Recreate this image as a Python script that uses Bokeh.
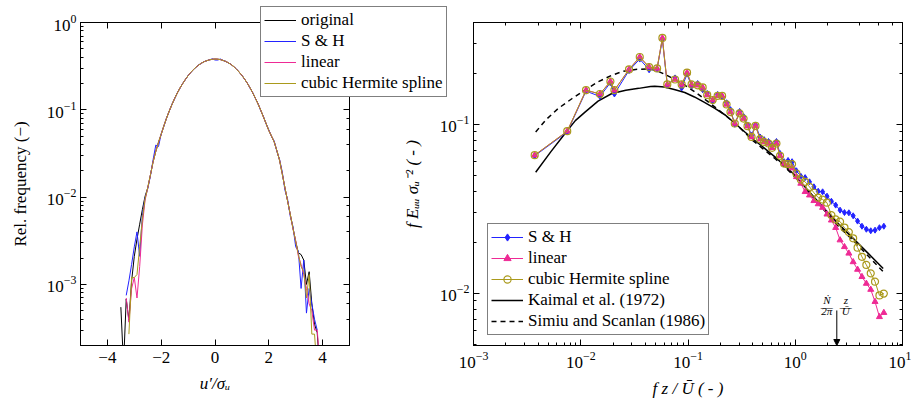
from bokeh.plotting import figure
from bokeh.models import (Range1d, LogAxis, LinearAxis, FixedTicker, LogTicker,
                          LogTickFormatter, Legend, LegendItem, Label, Arrow, NormalHead,
                          CustomJSTickFormatter, GridBox)
from bokeh.embed import file_html
from bokeh.resources import INLINE

FONT = "Liberation Serif"
NAN = float("nan")

# ---------------- left panel: histogram of u'/sigma_u ----------------
u_bin_start, u_bin_step, u_bin_count = -3.5, 0.1, 75
u_bins = [round(u_bin_start + u_bin_step * i, 1) for i in range(u_bin_count)]

# shared central part (-2.5 .. 2.8)
core_vals = [0.0128, 0.0180, 0.0255, 0.0335, 0.0425, 0.0525, 0.0655, 0.0805, 0.0970, 0.1150,
             0.1350, 0.1560, 0.1780, 0.2000, 0.2230, 0.2460, 0.2680, 0.2890, 0.3090, 0.3270,
             0.3430, 0.3560, 0.3660, 0.3740, 0.3790, 0.3810, 0.3800, 0.3760, 0.3680, 0.3580,
             0.3450, 0.3300, 0.3120, 0.2920, 0.2700, 0.2480, 0.2250, 0.2020, 0.1790, 0.1570,
             0.1360, 0.1170, 0.0990, 0.0830, 0.0695, 0.0580, 0.0500, 0.0430, 0.0340, 0.0265,
             0.0185, 0.0128, 0.0090, 0.0063]
sh_core_vals = [0.0125, 0.0175, 0.0270, 0.0395, 0.0380, 0.0530, 0.0650, 0.0810, 0.0965, 0.1160,
                0.1340, 0.1570, 0.1770, 0.2010, 0.2220, 0.2470, 0.2670, 0.2900, 0.3080, 0.3280,
                0.3420, 0.3570, 0.3650, 0.3750, 0.3830, 0.3720, 0.3710, 0.3820, 0.3670, 0.3590,
                0.3440, 0.3310, 0.3110, 0.2930, 0.2690, 0.2490, 0.2240, 0.2030, 0.1780, 0.1580,
                0.1350, 0.1180, 0.0980, 0.0840, 0.0690, 0.0590, 0.0495, 0.0440, 0.0335, 0.0270,
                0.0195, 0.0120, 0.0094, 0.0060]

orig_left = [0.00055, 0.00012, 0.00068, 0.00039, 0.0011, 0.0021, 0.0033, 0.0049, 0.0072, 0.0102]
sh_left = [NAN, NAN, 0.00075, 0.0011, 0.0017, 0.0027, 0.0040, 0.0021, 0.0062, 0.0098]
lin_left = [NAN, NAN, 0.0007, 0.00037, 0.0009, 0.0012, 0.0007, 0.0016, 0.0048, 0.0092]
chs_left = [NAN, NAN, NAN, 0.00027, 0.0012, 0.0012, 0.0013, 0.0027, 0.0056, 0.0095]

orig_right = [0.0044, 0.0031, 0.0023, 0.0022, 0.0019, 0.0010, 0.0014, 0.0006, 0.00035, 0.00028, 0.0001]
sh_right = [0.0046, 0.0027, 0.0024, 0.0009, 0.0019, 0.00047, 0.0009, 0.0006, 0.0004, 0.0003, NAN]
lin_right = [0.0043, 0.0032, 0.0021, 0.0017, 0.0013, 0.0009, 0.0006, 0.0005, 0.0003, 0.0003, 0.00012]
chs_right = [0.0044, 0.0031, 0.0022, 0.0016, 0.0014, 0.0007, 0.0013, 0.00027, 0.00027, 0.0001, NAN]

orig_vals = orig_left + core_vals + orig_right
sh_vals = sh_left + sh_core_vals + sh_right
lin_vals = lin_left + core_vals + lin_right
chs_vals = chs_left + core_vals + chs_right

x_ticks_left = [-4, -2, 0, 2, 4]
x_tick_labels_left = {-4: "\u22124", -2: "\u22122", 0: "0", 2: "2", 4: "4"}

# ---------------- right panel: spectra ----------------
fz = [0.00372, 0.00748, 0.0112, 0.0151, 0.0189, 0.0206, 0.0282, 0.0355, 0.0434, 0.0515,
      0.0577, 0.0641, 0.0757, 0.0873, 0.098, 0.108, 0.123, 0.137, 0.151, 0.170,
      0.189, 0.208, 0.229, 0.249, 0.273, 0.303, 0.330, 0.359, 0.391, 0.426,
      0.471, 0.513, 0.563, 0.608, 0.668, 0.722, 0.787, 0.857, 0.934,
      1.026, 1.127, 1.236, 1.358, 1.493, 1.637, 1.799, 1.977, 2.173, 2.382,
      2.618, 2.877, 3.162, 3.467, 3.811, 4.188, 4.603, 5.058, 5.546, 6.095, 6.699]
spec_sh = [0.0650, 0.0900, 0.157, 0.146, 0.176, 0.151, 0.208, 0.243, 0.210, 0.212,
           0.318, 0.170, 0.188, 0.164, 0.198, 0.168, 0.174, 0.160, 0.152, 0.137,
           0.150, 0.146, 0.134, 0.122, 0.100, 0.119, 0.111, 0.099, 0.086, 0.099,
           0.084, 0.081, 0.079, 0.075, 0.079, 0.067, 0.060, 0.061, 0.060,
           0.0530, 0.0492, 0.0483, 0.0456, 0.0426, 0.0401, 0.0398, 0.0375, 0.0350, 0.0332,
           0.0310, 0.0300, 0.0299, 0.0287, 0.0267, 0.0249, 0.0239, 0.0234, 0.0236, 0.0244, 0.0249]
spec_lin = [0.0656, 0.0909, 0.159, 0.151, 0.179, 0.159, 0.211, 0.250, 0.218, 0.214,
            0.324, 0.172, 0.184, 0.172, 0.202, 0.172, 0.170, 0.165, 0.149, 0.139,
            0.147, 0.147, 0.131, 0.118, 0.101, 0.116, 0.108, 0.0973, 0.0841, 0.0977,
            0.0815, 0.0786, 0.0769, 0.0725, 0.0769, 0.065, 0.0585, 0.057, 0.055,
            0.0488, 0.0446, 0.0398, 0.0380, 0.0352, 0.0337, 0.0321, 0.0293, 0.0270, 0.0244,
            0.0206, 0.0188, 0.0172, 0.0153, 0.0138, 0.0125, 0.0114, 0.0105, 0.0089, 0.00724, 0.00766]
spec_chs = [0.0656, 0.0909, 0.159, 0.151, 0.179, 0.159, 0.211, 0.250, 0.218, 0.214,
            0.324, 0.172, 0.184, 0.172, 0.202, 0.172, 0.170, 0.165, 0.149, 0.139,
            0.147, 0.147, 0.131, 0.118, 0.101, 0.116, 0.108, 0.0973, 0.0841, 0.0977,
            0.0815, 0.0786, 0.0769, 0.0725, 0.0769, 0.065, 0.0585, 0.058, 0.058,
            0.0511, 0.0471, 0.0456, 0.0426, 0.0393, 0.0368, 0.0358, 0.0343, 0.0290, 0.0273,
            0.0265, 0.0244, 0.0230, 0.0211, 0.0186, 0.0164, 0.0147, 0.0131, 0.0117, 0.0097, 0.00995]

kaimal_fz = [0.0038, 0.00525, 0.00741, 0.0089, 0.01096, 0.0145, 0.0195, 0.0263, 0.0347, 0.0447,
             0.049, 0.0603, 0.0759, 0.0933, 0.1148, 0.141, 0.178, 0.224, 0.275, 0.339,
             0.417, 0.525, 0.646, 0.794, 0.955, 1.318, 1.862, 2.512, 3.467, 4.786, 6.607]
kaimal_vals = [0.052, 0.0686, 0.0909, 0.105, 0.118, 0.137, 0.152, 0.159, 0.163, 0.167,
               0.168, 0.166, 0.160, 0.154, 0.145, 0.135, 0.124, 0.113, 0.101, 0.090,
               0.0804, 0.0715, 0.0641, 0.057, 0.0511, 0.0405, 0.0317, 0.0258, 0.0211, 0.0172, 0.014]
simiu_fz = [0.0038, 0.00479, 0.00617, 0.00832, 0.01096, 0.01445, 0.0195, 0.0251, 0.0324, 0.0437,
            0.0525, 0.0631, 0.0851, 0.1148, 0.1514, 0.204, 0.282, 0.398, 0.501, 0.646,
            0.794, 0.955, 1.318, 1.862, 2.512, 3.467, 4.786, 6.607]
simiu_vals = [0.090, 0.107, 0.124, 0.142, 0.159, 0.178, 0.195, 0.206, 0.211, 0.213,
              0.206, 0.195, 0.177, 0.156, 0.137, 0.118, 0.100, 0.0805, 0.0715, 0.0627,
              0.056, 0.050, 0.040, 0.031, 0.025, 0.0205, 0.0166, 0.0134]

spec_y_major = [0.01, 0.1]
spec_y_minor = [0.005, 0.006, 0.007, 0.008, 0.009, 0.02, 0.03, 0.04, 0.05, 0.06, 0.07,
                0.08, 0.09, 0.2, 0.3, 0.4]

nyquist_fz = 2.44
nyquist_mark_top = 0.0079

C_BLUE = "#2323ff"
C_PINK = "#ee2a95"
C_OLIVE = "#aa9a1c"
FS = "17px"


def style_axis(ax, minor=True):
    ax.axis_line_color = "black"
    ax.axis_line_width = 1
    ax.major_tick_line_color = "black"
    ax.minor_tick_line_color = "black"
    ax.major_tick_in = 6
    ax.major_tick_out = 0
    ax.minor_tick_in = 3 if minor else 0
    ax.minor_tick_out = 0
    ax.major_label_text_font = FONT
    ax.major_label_text_font_size = FS
    ax.major_label_text_color = "black"
    ax.axis_label_text_font = FONT
    ax.axis_label_text_font_size = FS
    ax.axis_label_text_color = "black"
    ax.axis_label_text_font_style = "normal"


def blank():
    return CustomJSTickFormatter(code="return ''")


def style_legend(leg):
    leg.label_text_font = FONT
    leg.label_text_font_size = FS
    leg.label_text_color = "black"
    leg.glyph_width = 32
    leg.glyph_height = 18
    leg.label_height = 18
    leg.label_standoff = 5
    leg.spacing = 1
    leg.padding = 3
    leg.margin = 0
    leg.border_line_color = "black"
    leg.border_line_width = 1
    leg.background_fill_color = "white"
    leg.background_fill_alpha = 1


# ---------- left figure ----------
p1 = figure(output_backend="svg", toolbar_location=None,
            x_range=Range1d(-5, 5), y_range=Range1d(2e-4, 1), y_axis_type="log",
            frame_width=269, frame_height=323,
            min_border_left=80, min_border_right=116, min_border_top=22, min_border_bottom=58)
p1.grid.visible = False
p1.outline_line_color = "black"
p1.background_fill_color = "white"
p1.border_fill_color = None

p1.xaxis.ticker = FixedTicker(ticks=x_ticks_left)
p1.xaxis.major_label_overrides = x_tick_labels_left
p1.xaxis.axis_label = "u\u2032/\u03c3\u1d64"
p1.yaxis.axis_label = "Rel. frequency (\u2212)"
for ax in p1.xaxis:
    style_axis(ax, minor=False)
    ax.major_label_standoff = 6
    ax.axis_label_standoff = 8
    ax.axis_label_text_font_style = "italic"
for ax in p1.yaxis:
    style_axis(ax)
    ax.major_label_standoff = 4
    ax.axis_label_standoff = 14

top1 = LinearAxis(ticker=FixedTicker(ticks=x_ticks_left), formatter=blank(), major_label_standoff=0)
style_axis(top1, minor=False)
p1.add_layout(top1, "above")
right1 = LogAxis(ticker=LogTicker(), formatter=blank(), major_label_standoff=0)
style_axis(right1)
p1.add_layout(right1, "right")

line_styles = {
    "original": dict(line_color="black", line_width=1),
    "S & H": dict(line_color=C_BLUE, line_width=1),
    "linear": dict(line_color=C_PINK, line_width=1),
    "cubic Hermite spline": dict(line_color=C_OLIVE, line_width=1),
}
p1.line(u_bins, orig_vals, **line_styles["original"])
p1.line(u_bins, sh_vals, **line_styles["S & H"])
p1.line(u_bins, lin_vals, **line_styles["linear"])
p1.line(u_bins, chs_vals, **line_styles["cubic Hermite spline"])

# small transparent overlay that carries the left legend (it overlaps both panels);
# its stand-in renderers sit outside the overlay's ranges and only lend their style
p3 = figure(output_backend="svg", toolbar_location=None, width=210, height=112,
            x_range=Range1d(0, 1), y_range=Range1d(0, 1),
            x_axis_type=None, y_axis_type=None, min_border=0)
p3.grid.visible = False
p3.outline_line_color = None
p3.background_fill_color = None
p3.border_fill_color = None
items3 = []
for name, st in line_styles.items():
    r = p3.line([-3, -2], [-3, -2], **st)
    items3.append(LegendItem(label=name, renderers=[r]))
leg1 = Legend(items=items3, location="top_left")
style_legend(leg1)
leg1.margin = 1
p3.add_layout(leg1)

# ---------- right figure ----------
p2 = figure(output_backend="svg", toolbar_location=None,
            x_range=Range1d(1e-3, 10), y_range=Range1d(0.0049, 0.4),
            x_axis_type="log", y_axis_type="log",
            frame_width=429, frame_height=323,
            min_border_left=78, min_border_right=9, min_border_top=22, min_border_bottom=58)
p2.grid.visible = False
p2.outline_line_color = "black"
p2.background_fill_color = "white"
p2.border_fill_color = None

p2.xaxis.axis_label = "f z / \u016a ( - )"
p2.yaxis.axis_label = "f E\u1d64\u1d64 \u03c3\u1d64\u207b\u00b2 ( - )"
p2.yaxis.ticker = FixedTicker(ticks=spec_y_major, minor_ticks=spec_y_minor)
p2.yaxis.formatter = LogTickFormatter()
for ax in p2.xaxis:
    style_axis(ax)
    ax.major_label_standoff = 6
    ax.axis_label_standoff = 8
    ax.axis_label_text_font_style = "italic"
for ax in p2.yaxis:
    style_axis(ax)
    ax.major_label_standoff = 4
    ax.axis_label_standoff = 15
    ax.axis_label_text_font_style = "italic"

top2 = LogAxis(ticker=LogTicker(), formatter=blank(), major_label_standoff=0)
style_axis(top2)
p2.add_layout(top2, "above")
right2 = LogAxis(ticker=FixedTicker(ticks=spec_y_major, minor_ticks=spec_y_minor),
                 formatter=blank(), major_label_standoff=0)
style_axis(right2)
p2.add_layout(right2, "right")

k_r = p2.line(kaimal_fz, kaimal_vals, line_color="black", line_width=1.5)
s_r = p2.line(simiu_fz, simiu_vals, line_color="black", line_width=1.5, line_dash="5 4")

sh_l = p2.line(fz, spec_sh, line_color=C_BLUE, line_width=1)
sh_m = p2.scatter(fz, spec_sh, marker="diamond", size=6, line_color=C_BLUE, fill_color=C_BLUE)
lin_l = p2.line(fz, spec_lin, line_color=C_PINK, line_width=1)
lin_m = p2.scatter(fz, spec_lin, marker="triangle", size=6, line_color=C_PINK, fill_color=C_PINK)
chs_l = p2.line(fz, spec_chs, line_color=C_OLIVE, line_width=1)
chs_m = p2.scatter(fz, spec_chs, marker="circle", size=7, line_color=C_OLIVE, fill_color=None, line_width=1.2)

leg2 = Legend(items=[LegendItem(label="S & H", renderers=[sh_l, sh_m]),
                     LegendItem(label="linear", renderers=[lin_l, lin_m]),
                     LegendItem(label="cubic Hermite spline", renderers=[chs_l, chs_m]),
                     LegendItem(label="Kaimal et al. (1972)", renderers=[k_r]),
                     LegendItem(label="Simiu and Scanlan (1986)", renderers=[s_r])],
              location=(14, 10))
style_legend(leg2)
p2.add_layout(leg2)

# Nyquist marker
p2.add_layout(Arrow(x_start=nyquist_fz, y_start=nyquist_mark_top, x_end=nyquist_fz, y_end=0.0049,
                    line_color="black", line_width=1,
                    end=NormalHead(size=6, fill_color="black", line_color="black")))
for txt, dx, dy in [("\u1e44", -10, 10), ("2\u03c0", -10, -1), ("z", 9, 10), ("\u016a", 9, -1)]:
    p2.add_layout(Label(x=nyquist_fz, y=nyquist_mark_top, x_offset=dx, y_offset=dy, text=txt,
                        text_align="center", text_baseline="alphabetic", text_font=FONT,
                        text_font_size="11px", text_font_style="italic", text_color="black"))
for dx in (-10, 9):
    p2.add_layout(Label(x=nyquist_fz, y=nyquist_mark_top, x_offset=dx, y_offset=3, text="\u2014",
                        text_align="center", text_baseline="alphabetic", text_font=FONT,
                        text_font_size="12px", text_color="black"))

# overlapping grid: p1 = cols 0-3, p2 = cols 2-4, legend overlay = cols 1-2
layout = GridBox(children=[(p1, 0, 0, 3, 4), (p2, 0, 2, 3, 3), (p3, 1, 1, 1, 2)],
                 cols=["259px", "136px", "65px", "5px", "446px"],
                 rows=["5px", "96px", "302px"], spacing=0)
open("out.html", "w").write(file_html(layout, INLINE, title="spectra"))
